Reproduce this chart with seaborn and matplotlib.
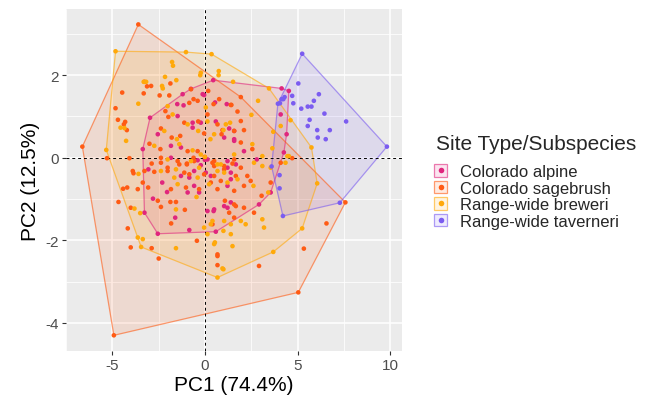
import numpy as np
import pandas as pd
import matplotlib
matplotlib.use("Agg")
import matplotlib.pyplot as plt
import seaborn as sns
from matplotlib.patches import Patch, Polygon
from matplotlib.lines import Line2D
from matplotlib.legend_handler import HandlerTuple

# ---------------- data ----------------
groups = ["Colorado alpine", "Colorado sagebrush", "Range-wide breweri", "Range-wide taverneri"]
colors = ["#E0267D", "#FF5B14", "#FFA90A", "#7B5CF0"]

sage_x = [-3.59, -6.61, -4.91, 5.04, 7.58, -3.26, -2.90, -3.12, -1.86, 0.18, -4.46, -3.30, -2.44, -1.92,
          -0.84, -0.39, 0.47, 1.43, -2.13, -4.69, -4.30, -4.37, -4.07, -5.28, -0.75, -0.61, 0.77, 1.94,
          1.40, 1.76, 0.14, 1.94, 0.95, 2.11, 1.94, 2.56, 4.71, -4.82, -4.21, -1.97, -1.11, -0.36, 0.68,
          1.58, 0.90, -0.04, -1.33, -1.79, -2.37, -2.99, -2.40, -0.93, -0.39, -0.61, -0.97, 0.50, 1.49,
          -2.37, -1.47, -2.87, -3.26, -2.01, -1.11, -0.04, 1.04, -3.89, -3.85, -3.35, -4.41, -4.19, -3.62,
          -4.66, -4.00, -4.16, -4.00, -2.87, -2.49, -2.54, -2.37, -1.86, -1.56, -1.08, -1.82, -0.43, -0.31,
          0.68, 0.68, 1.08, 1.67, 1.31, 1.58, -2.37, -1.38, -0.58, 0.41, 1.04, -2.73, -2.01, -0.84, 0.50,
          1.67, -3.06, -1.83, -1.02, 0.68, 1.58, 0.50, 1.58, 1.94, 2.29, 4.09, 0.32, 0.86, 2.11, 2.47,
          3.06, 3.55, 1.58, 2.11, 2.65, 0.41, 0.68, 2.92, 5.34, 6.56, -0.97, 0.00]
sage_y = [3.23, 0.27, -4.30, -3.26, -1.08, 1.84, 1.74, 1.73, 1.80, 1.62, 1.58, 1.56, 1.51, 1.51,
          1.33, 1.38, 1.30, 1.28, 1.13, 0.92, 0.87, 0.81, -0.01, -0.01, 1.66, 1.42, 1.42, 1.47,
          1.28, 1.12, 1.05, 0.89, 0.67, 0.67, 0.37, 0.21, -0.01, 1.20, 0.67, 0.99, 0.85, 0.88, 0.81,
          0.65, 0.57, 0.59, 0.53, 0.49, 0.71, 0.34, 0.21, 0.16, 0.16, 0.00, -0.14, -0.08, -0.14,
          0.00, -0.08, -0.14, -0.32, -0.24, -0.36, -0.40, -0.28, -0.32, -0.375, -0.60, -0.75, -0.72, -0.76,
          -1.07, -1.21, -1.71, -2.17, -2.19, -2.44, -1.04, -1.19, -1.07, -1.07, -1.26, -1.59, -2.01, -0.76,
          -2.38, -2.60, -1.04, -1.17, -1.33, -1.45, -0.12, -0.16, -0.08, -0.12, -0.20, -0.34, -0.32, -0.40, -0.44,
          -0.44, -0.72, -0.76, -0.72, -0.76, -0.80, -0.20, -0.04, -0.24, -0.44, -0.12, -0.60, -0.56, -0.68, -0.56,
          -0.92, -0.60, -1.13, -1.21, -1.33, -1.61, -2.34, -2.62, -2.20, -1.59, -0.16, 0.02]

brew_x = [-4.82, -1.02, 0.36, 3.46, 5.75, 6.06, 5.25, 3.69, 0.68, -3.44, -3.62, -5.32, -1.77, -1.72,
          0.75, 0.74, -2.15, -1.54, -2.31, -2.27, -3.59, -4.55, -4.34, -4.25, -3.30, -3.17, -2.01, -0.22,
          -0.25, 0.05, 1.52, 2.87, 2.51, 1.36, 4.09, 3.69, 4.62, 4.53, 4.35, 3.64, 2.56, 3.10, -1.74,
          -0.93, 0.14, 1.13, 1.00, 0.50, -0.36, -1.51, -2.19, -2.73, -1.38, -0.66, -0.22, -0.75, 0.68,
          1.58, -2.01, -2.37, -1.56, -0.31, 0.68, -3.58, -3.80, -3.49, -3.35, -1.56, -1.56, -0.04, 0.41,
          0.32, 0.14, 0.54, 0.95, 1.40, 1.04, 0.86, 2.65, 3.10, 3.55, 4.45, 1.22, 1.76, 2.62, 3.42,
          3.10, 1.94, 2.20, 1.00, 1.40, 0.50, 1.49, 1.00, 3.19, -1.65, -0.39, 1.04, -1.47, 0.23, 0.00,
          -0.45, 0.30]
brew_y = [2.58, 2.56, 2.51, 1.68, 0.25, -0.62, -1.71, -2.28, -2.90, -2.16, -1.93, 0.19, 2.32, 2.23,
          2.10, 2.00, 1.96, 1.88, 1.74, 1.68, 1.31, 0.73, 0.72, 0.41, 1.84, 1.84, 1.25, 2.06,
          2.00, 1.22, 1.84, 1.38, 1.04, 0.85, 0.77, 0.63, 0.91, 0.04, -0.12, 0.23, 0.33, 0.04, 1.05,
          0.81, 0.88, 0.81, 0.67, 0.57, 0.65, 0.45, 0.65, 0.29, 0.33, 0.18, 0.08, -0.08, -0.16,
          0.08, -0.04, -0.32, -0.28, -0.24, -0.32, -0.39, -1.23, -1.34, -1.97, -2.19, -1.25, -1.69, -1.53,
          -1.61, -1.85, -2.05, -2.68, -1.61, -1.53, -0.16, -0.12, -0.20, -0.24, 0.04, -0.60, -0.52, -0.68, -0.84,
          -1.49, -1.53, -1.61, -1.77, -1.85, -2.09, -2.14, -2.70, -1.69, -0.48, -0.48, -0.36, -0.64, -0.64, 0.02,
          -0.95, 0.45]

alp_x = [-2.96, 0.45, 4.14, 4.53, 4.41, 3.55, 2.92, 0.59, -2.54, -3.26, -3.35, -0.75, -0.04, -1.49,
         -1.15, 0.55, 1.18, -1.20, -0.12, -1.47, -0.66, -0.22, 0.59, 1.31, 1.04, 1.58, -0.66, -2.54,
         -1.83, -1.29, -0.39, 0.14, 1.22, -1.83, -3.05, -0.84, -0.58, 0.32, 1.40, -2.80, -2.04, -0.93,
         -0.31, 0.14, 0.47, -0.84, 1.40, 1.22, 1.67, -0.22, -1.29, 0.05, 1.40, -0.58, 1.22, 1.22,
         0.50, 1.04, 1.58, 4.09, 4.26, 1.58, 2.80, 2.11, 0.00, -2.30, -1.60]
alp_y = [0.97, 1.88, 1.68, 1.62, 0.57, -0.84, -1.13, -1.79, -1.84, -1.33, 0.21, 1.67, 1.52, 1.30,
         1.27, 1.34, 1.30, 1.54, 1.54, 1.01, 0.85, 0.85, 0.88, 0.71, 0.49, 0.45, 0.73, 0.57,
         0.29, 0.25, -0.06, -0.04, -0.08, 0.00, -0.28, -0.48, -0.32, -0.44, -0.36, -0.99, -0.83, -0.84,
         -0.84, -1.29, -1.29, -1.75, -1.08, -1.21, -0.16, -0.18, -0.44, -0.36, -0.52, -0.68, -0.68, -0.24,
         -1.25, -1.17, 0.65, 1.05, 0.13, 0.41, -0.04, 0.16, -0.05, -0.60, -1.45]

tav_x = [5.25, 9.82, 7.28, 4.21, 3.60, 3.94, 4.14, 5.04, 4.71, 6.15, 5.88, 4.77, 5.20, 5.55, 5.75,
         6.45, 5.65, 5.55, 7.62, 6.06, 6.74, 6.09, 6.52, 4.23, 4.30, 4.05, 4.03, 4.03]
tav_y = [2.52, 0.27, -1.09, -1.41, -0.21, 1.31, 1.42, 1.80, 1.50, 1.54, 1.38, 1.32, 1.19, 1.24, 1.24,
         1.07, 0.92, 0.77, 0.88, 0.67, 0.67, 0.49, 0.45, 1.42, 1.47, 1.32, -0.42, -0.74]

x_ticks = [-5, 0, 5, 10]
y_ticks = [-4, -2, 0, 2]
x_label = "PC1 (74.4%)"
y_label = "PC2 (12.5%)"
legend_title = "Site Type/Subspecies"

# ---------------- build table ----------------
df = pd.concat([
    pd.DataFrame({"PC1": alp_x, "PC2": alp_y, "group": groups[0]}),
    pd.DataFrame({"PC1": sage_x, "PC2": sage_y, "group": groups[1]}),
    pd.DataFrame({"PC1": brew_x, "PC2": brew_y, "group": groups[2]}),
    pd.DataFrame({"PC1": tav_x, "PC2": tav_y, "group": groups[3]}),
], ignore_index=True)
palette = dict(zip(groups, colors))


def convex_hull(pts):
    pts = sorted(set(map(tuple, pts)))
    if len(pts) <= 2:
        return pts

    def cross(o, a, b):
        return (a[0] - o[0]) * (b[1] - o[1]) - (a[1] - o[1]) * (b[0] - o[0])
    lower, upper = [], []
    for p in pts:
        while len(lower) >= 2 and cross(lower[-2], lower[-1], p) <= 0:
            lower.pop()
        lower.append(p)
    for p in reversed(pts):
        while len(upper) >= 2 and cross(upper[-2], upper[-1], p) <= 0:
            upper.pop()
        upper.append(p)
    return lower[:-1] + upper[:-1]


sns.set_theme(style="darkgrid")
plt.rcParams["font.family"] = ["Liberation Sans", "DejaVu Sans"]
plt.rcParams["axes.unicode_minus"] = False

fig = plt.figure(figsize=(6.52, 4.06), dpi=100)
ax = fig.add_axes([0.101, 0.133, 0.516, 0.842])
ax.set_facecolor("#EBEBEB")

# hulls
for g in groups:
    sub = df[df.group == g]
    hull = convex_hull(sub[["PC1", "PC2"]].values)
    ax.add_patch(Polygon(hull, closed=True, facecolor=palette[g], alpha=0.12,
                         edgecolor="none", zorder=2))
    ax.add_patch(Polygon(hull, closed=True, facecolor="none", edgecolor=palette[g],
                         alpha=0.6, lw=0.9, zorder=2.1))

sns.scatterplot(data=df, x="PC1", y="PC2", hue="group", palette=palette, s=11,
                linewidth=0, legend=False, ax=ax, zorder=3)

ax.axvline(0, color="black", ls=(0, (3, 3)), lw=0.7, zorder=2.5)
ax.axhline(0, color="black", ls=(0, (3, 3)), lw=0.7, zorder=2.5)

ax.set_xlim(-7.42, 10.65)
ax.set_ylim(-4.68, 3.6)
ax.set_xticks(x_ticks)
ax.set_yticks(y_ticks)
ax.set_xticks([-7.5, -2.5, 2.5, 7.5], minor=True)
ax.set_yticks([-3, -1, 1, 3], minor=True)
ax.grid(which="major", color="white", lw=1.1)
ax.grid(which="minor", color="white", lw=0.55)
ax.tick_params(which="major", length=3, width=0.8, color="#333333", labelsize=11,
               labelcolor="#4D4D4D", pad=2, bottom=True, left=True)
ax.tick_params(which="minor", length=0)
for sp in ax.spines.values():
    sp.set_visible(False)
ax.set_xlabel(x_label, fontsize=15, color="black", labelpad=2)
ax.set_ylabel(y_label, fontsize=15, color="black", labelpad=4)

# legend (ggplot-like keys)
handles = []
for g in groups:
    box = Patch(facecolor=(*matplotlib.colors.to_rgb(palette[g]), 0.12),
                edgecolor=(*matplotlib.colors.to_rgb(palette[g]), 0.6), lw=0.9)
    dot = Line2D([], [], marker="o", ls="none", markersize=4, markerfacecolor=palette[g],
                 markeredgewidth=0)
    handles.append((box, dot))
fig.text(436 / 652, 1 - 145 / 406, legend_title, fontsize=15, va="center", ha="left")
leg = fig.legend(handles, groups, handler_map={tuple: HandlerTuple(ndivide=1, pad=0)},
                 loc="upper left", bbox_to_anchor=(434 / 652, 1 - 165 / 406), frameon=False,
                 fontsize=12, handlelength=0.8, handleheight=0.8, handletextpad=0.75,
                 labelspacing=0.08, borderaxespad=0, borderpad=0)

fig.savefig("out.png", dpi=100)
